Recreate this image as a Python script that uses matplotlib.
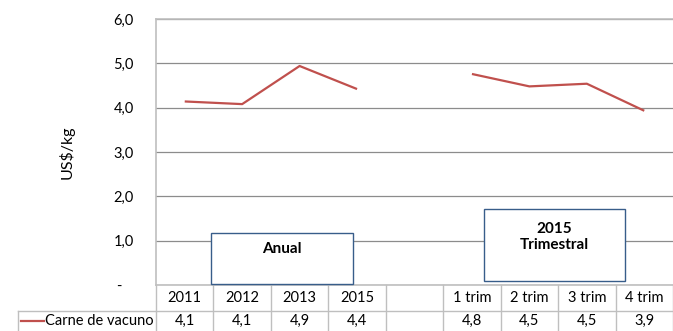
import matplotlib.pyplot as plt
from matplotlib.transforms import blended_transform_factory
from matplotlib.patches import Rectangle
from matplotlib.lines import Line2D

plt.rcParams['font.family'] = ['Lato', 'DejaVu Sans']

categories = ['2011', '2012', '2013', '2015', '', '1 trim', '2 trim', '3 trim', '4 trim']
annual = [4.14, 4.08, 4.94, 4.42]
quarterly = [4.76, 4.48, 4.54, 3.93]
series_name = 'Carne de vacuno'
yticks = [0, 1, 2, 3, 4, 5, 6]
ytick_labels = ['-   ', '1,0', '2,0', '3,0', '4,0', '5,0', '6,0']

red = '#C0504D'
grid_c = '#8C8C8C'
border_c = '#BFBFBF'
box_c = '#385D8A'

fig = plt.figure(figsize=(6.73, 3.31), dpi=100)
ax = fig.add_axes([156 / 673, 1 - 285 / 331, 517 / 673, 266 / 331])

x_annual = list(range(4))
x_quarter = list(range(5, 9))
ax.plot(x_annual, annual, color=red, lw=1.6, solid_capstyle='butt')
ax.plot(x_quarter, quarterly, color=red, lw=1.6, solid_capstyle='butt')

ax.set_xlim(-0.5, 8.5)
ax.set_ylim(0, 6)
ax.set_yticks(yticks)
ax.set_yticklabels(ytick_labels, fontsize=10.5)
ax.set_xticks([])
ax.tick_params(axis='y', length=0, pad=16)
ax.yaxis.grid(True, color=grid_c, lw=0.9)
ax.set_axisbelow(True)
for s in ['right', 'bottom']:
    ax.spines[s].set_visible(False)
for s in ['left', 'top']:
    ax.spines[s].set_color(border_c)
    ax.spines[s].set_linewidth(1.2)
ax.set_ylabel('US$/kg', fontsize=11.5)
ax.yaxis.set_label_coords(-81 / 517, 0.5)

# data table below the plot
tr = blended_transform_factory(ax.transData, ax.transAxes)
row1 = -26 / 266
row2 = -46 / 266
for i in range(10):
    ax.add_line(Line2D([i - 0.5, i - 0.5], [0, row2], transform=tr, color=border_c, lw=1, clip_on=False))
ax.add_line(Line2D([-0.5, 8.5], [0, 0], transform=tr, color=border_c, lw=1.2, clip_on=False))
ax.add_line(Line2D([-0.5, 8.5], [row1, row1], transform=tr, color=border_c, lw=1, clip_on=False))
values = annual + [None] + quarterly
for i, (cat, v) in enumerate(zip(categories, values)):
    ax.text(i, (row1) / 2, cat, transform=tr, ha='center', va='center', fontsize=10.5, clip_on=False)
    if v is not None:
        ax.text(i, (row1 + row2) / 2, f'{v:.1f}'.replace('.', ','), transform=tr,
                ha='center', va='center', fontsize=10.5, clip_on=False)

# legend cell
fig.add_artist(Line2D([18 / 673, 156 / 673], [1 - 311 / 331, 1 - 311 / 331], color=border_c, lw=1))
fig.add_artist(Line2D([18 / 673, 18 / 673], [0, 1 - 311 / 331], color=border_c, lw=1))
fig.add_artist(Line2D([21 / 673, 44 / 673], [1 - 321 / 331, 1 - 321 / 331], color=red, lw=1.6))
fig.text(45 / 673, 1 - 321 / 331, series_name, fontsize=10.5, va='center', ha='left')

# annotation boxes
fig.add_artist(Rectangle((211 / 673, 1 - 284 / 331), 142 / 673, 51 / 331, transform=fig.transFigure,
                         fill=True, facecolor='white', edgecolor=box_c, lw=1))
fig.text(282 / 673, 1 - 249 / 331, 'Anual', fontsize=11, fontweight='bold', ha='center', va='center')
fig.add_artist(Rectangle((484 / 673, 1 - 281 / 331), 141 / 673, 72 / 331, transform=fig.transFigure,
                         fill=True, facecolor='white', edgecolor=box_c, lw=1))
fig.text(554 / 673, 1 - 237 / 331, '2015\nTrimestral', fontsize=11, fontweight='bold',
         ha='center', va='center', linespacing=1.25)

fig.savefig('out.png', dpi=100)
